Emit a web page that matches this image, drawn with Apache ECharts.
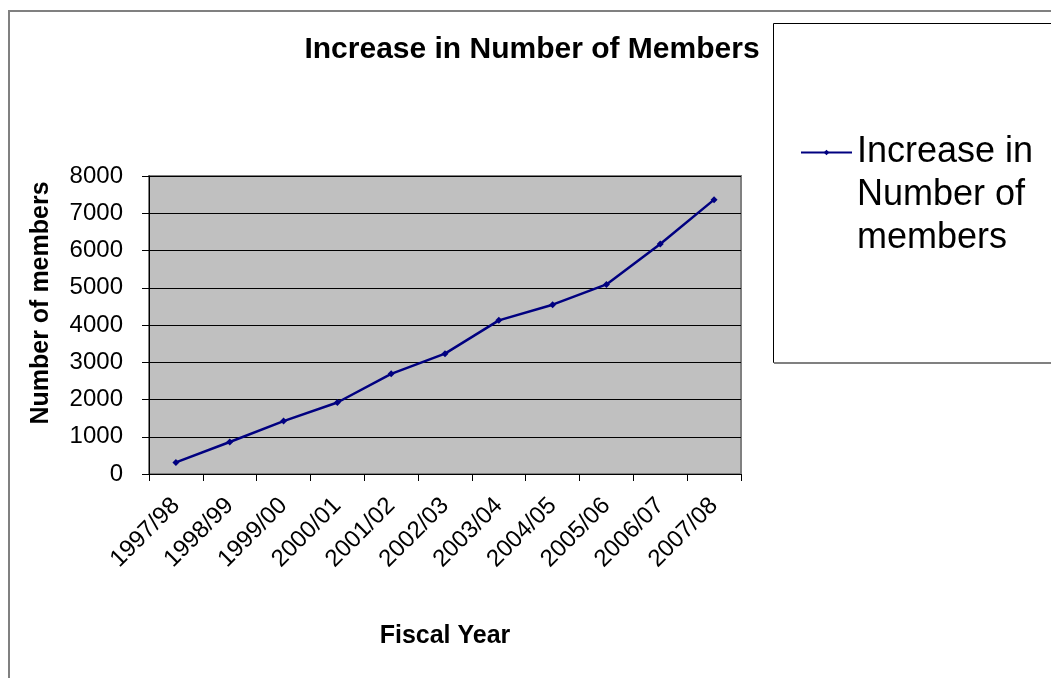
<!DOCTYPE html>
<html>
<head>
<meta charset="utf-8">
<script src="https://cdn.jsdelivr.net/npm/echarts@6/dist/echarts.min.js"></script>
<style>
html,body{margin:0;padding:0;background:#fff;}
#chart{width:1051px;height:678px;}
</style>
</head>
<body>
<div id="chart"></div>
<script>
var categories = ['1997/98','1998/99','1999/00','2000/01','2001/02','2002/03','2003/04','2004/05','2005/06','2006/07','2007/08'];
var members = [310, 860, 1420, 1920, 2690, 3230, 4125, 4545, 5090, 6175, 7365];
var seriesName = 'Increase in Number of members';
var titleText = 'Increase in Number of Members';
var xAxisName = 'Fiscal Year';
var yAxisName = 'Number of members';

var FONT = '"Liberation Sans", Arial, sans-serif';
var chart = echarts.init(document.getElementById('chart'), null, {renderer:'canvas'});
chart.setOption({
  backgroundColor: '#ffffff',
  animation: false,
  textStyle: {fontFamily: FONT, color: '#000'},
  graphic: [
    {type:'rect', z:0, shape:{x:9, y:11, width:1100, height:700}, style:{fill:'none', stroke:'#808080', lineWidth:2}},
    {type:'rect', z:0, shape:{x:773.5, y:23.5, width:300, height:339}, style:{fill:'#ffffff', stroke:'#000', lineWidth:1}},
    {type:'line', z:1, shape:{x1:774, y1:363, x2:1051, y2:363}, style:{stroke:'#808080', lineWidth:2}}
  ],
  title: {
    text: titleText,
    left: 527, textAlign: 'center', top: 30,
    textStyle: {fontFamily: FONT, fontSize: 30, fontWeight: 'bold', color: '#000'}
  },
  legend: {
    left: 795, top: 40,
    itemWidth: 51, itemHeight: 7, itemGap: 0,
    data: [seriesName],
    formatter: function(){ return '\n\nIncrease in\nNumber of\nmembers'; },
    textStyle: {fontFamily: FONT, fontSize: 36, lineHeight: 43, color: '#000'}
  },
  grid: {
    left: 149, right: 310, top: 176, bottom: 204,
    show: true, backgroundColor: '#c0c0c0', borderColor: '#808080', borderWidth: 2
  },
  xAxis: {
    type: 'category',
    data: categories,
    boundaryGap: true,
    name: xAxisName,
    nameLocation: 'middle',
    nameGap: 150,
    nameTextStyle: {fontFamily: FONT, fontSize: 25, fontWeight: 'bold', color: '#000'},
    axisLine: {lineStyle: {color: '#000', width: 1}},
    axisTick: {show: true, alignWithLabel: false, length: 7, lineStyle: {color: '#000'}},
    axisLabel: {rotate: 45, margin: 28, fontFamily: FONT, fontSize: 24, color: '#000', interval: 0},
    splitLine: {show: false}
  },
  yAxis: {
    type: 'value',
    min: 0, max: 8000, interval: 1000,
    name: yAxisName,
    nameLocation: 'middle',
    nameGap: 95,
    nameTextStyle: {fontFamily: FONT, fontSize: 25, fontWeight: 'bold', color: '#000', padding: [0,0,0,44]},
    axisLine: {show: true, lineStyle: {color: '#000', width: 1}},
    axisTick: {show: true, length: 7, lineStyle: {color: '#000'}},
    axisLabel: {margin: 26, fontFamily: FONT, fontSize: 24, color: '#000', formatter: function(v){ return String(v); }},
    splitLine: {show: true, lineStyle: {color: '#000', width: 1}}
  },
  series: [{
    name: seriesName,
    type: 'line',
    data: members,
    symbol: 'diamond',
    symbolSize: 7,
    showAllSymbol: true,
    lineStyle: {color: '#000080', width: 2.5},
    itemStyle: {color: '#000080'}
  }]
});
</script>
</body>
</html>
